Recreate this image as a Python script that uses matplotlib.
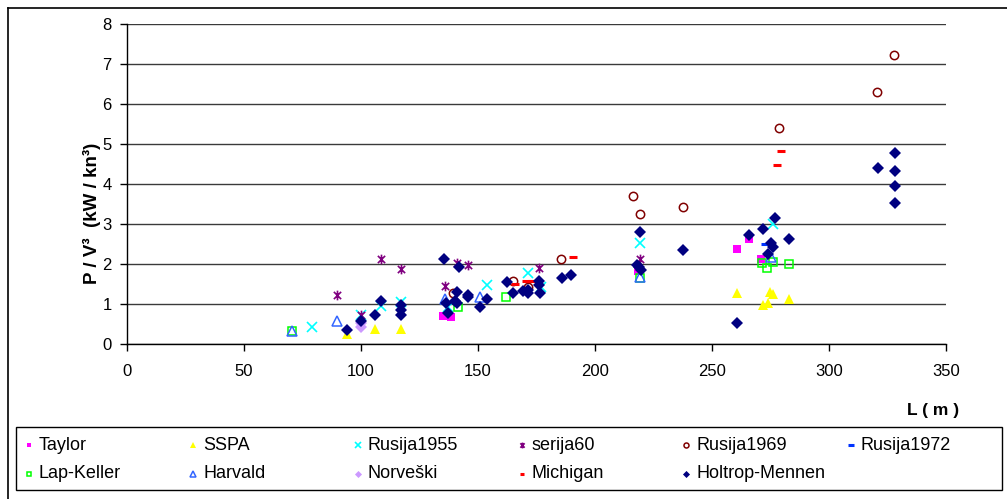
import matplotlib
matplotlib.use("Agg")
import matplotlib.pyplot as plt
from matplotlib.path import Path
from matplotlib.lines import Line2D
from matplotlib.patches import Rectangle

plt.rcParams['font.family'] = ['Liberation Sans', 'DejaVu Sans']

# ---- data (L in m, P/V^3 in kW/kn^3) ----
taylor_L = [135.2, 138.3, 218.5, 260.6, 265.9, 271.0]
taylor_y = [0.71, 0.68, 1.83, 2.37, 2.63, 2.13]

sspa_L = [93.9, 105.9, 117.1, 260.8, 271.7, 273.8, 274.8, 275.9, 283.0]
sspa_y = [0.26, 0.37, 0.37, 1.27, 0.98, 1.02, 1.31, 1.26, 1.12]

rus1955_L = [78.9, 100.0, 108.5, 117.1, 137.3, 153.7, 171.5, 176.9, 219.2, 275.9]
rus1955_y = [0.43, 0.72, 0.96, 1.06, 0.94, 1.49, 1.77, 1.44, 2.52, 3.01]

serija60_L = [89.7, 100.0, 108.5, 117.1, 136.0, 141.0, 145.9, 176.1, 219.2]
serija60_y = [1.23, 0.74, 2.12, 1.87, 1.46, 2.02, 1.98, 1.90, 2.12]

rus1969_L = [139.5, 164.8, 171.2, 185.5, 216.4, 219.2, 237.5, 278.6, 320.5, 327.8]
rus1969_y = [1.27, 1.57, 1.44, 2.13, 3.71, 3.26, 3.42, 5.40, 6.31, 7.23]

rus1972_L = [273.1]
rus1972_y = [2.50]

lapkeller_L = [70.6, 141.6, 162.0, 219.2, 271.2, 273.6, 275.9, 282.9]
lapkeller_y = [0.34, 0.92, 1.18, 1.65, 2.04, 1.90, 2.06, 2.00]

harvald_L = [70.6, 89.7, 135.9, 150.9, 219.2, 275.0]
harvald_y = [0.33, 0.59, 1.12, 1.17, 1.68, 2.17]

norveski_L = [100.0, 100.0]
norveski_y = [0.42, 0.52]

michigan_L = [165.8, 170.5, 173.0, 190.7, 277.6, 279.5]
michigan_y = [1.50, 1.57, 1.57, 2.19, 4.49, 4.84]

holtrop_L = [93.9, 99.9, 105.9, 108.5, 117.1, 117.1, 117.1, 135.6, 136.2, 137.3,
             140.2, 141.2, 141.2, 141.7, 145.9, 145.9, 150.9, 153.7, 162.3, 165.1,
             169.4, 171.5, 171.5, 176.2, 176.2, 176.5, 185.8, 189.7, 217.8, 218.9,
             219.5, 219.2, 237.7, 260.8, 265.9, 271.7, 274.0, 275.1, 276.2, 276.9,
             283.0, 320.8, 328.3, 328.3, 328.3, 328.3]
holtrop_y = [0.35, 0.59, 0.74, 1.07, 0.97, 0.85, 0.72, 2.12, 1.02, 0.77,
             1.08, 1.04, 1.30, 1.94, 1.19, 1.24, 0.92, 1.12, 1.55, 1.27,
             1.33, 1.29, 1.36, 1.59, 1.47, 1.27, 1.65, 1.73, 1.98, 1.92,
             1.86, 2.80, 2.36, 0.54, 2.72, 2.87, 2.26, 2.52, 2.44, 3.15,
             2.63, 4.41, 4.78, 4.34, 3.95, 3.53]

x_ticks = [0, 50, 100, 150, 200, 250, 300, 350]
y_ticks = [0, 1, 2, 3, 4, 5, 6, 7, 8]

# asterisk marker: x plus vertical bar
star_path = Path([(0, -1), (0, 1), (-0.75, -0.75), (0.75, 0.75), (-0.75, 0.75), (0.75, -0.75)],
                 [Path.MOVETO, Path.LINETO, Path.MOVETO, Path.LINETO, Path.MOVETO, Path.LINETO])

W, H = 1007, 499
fig = plt.figure(figsize=(W / 100, H / 100), dpi=100)
ax = fig.add_axes([127 / W, 1 - 344.3 / H, (946 - 127) / W, (344.3 - 24) / H])

series = [
    ("Taylor", taylor_L, taylor_y, dict(marker='s', ms=5.5, mfc='#FF00FF', mec='#FF00FF', mew=0)),
    ("SSPA", sspa_L, sspa_y, dict(marker='^', ms=7, mfc='#FFFF00', mec='#FFFF00', mew=0)),
    ("Rusija1955", rus1955_L, rus1955_y, dict(marker='x', ms=6.5, mfc='none', mec='#00FFFF', mew=1.2)),
    ("serija60", serija60_L, serija60_y, dict(marker=star_path, ms=7, mfc='none', mec='#800080', mew=1.2)),
    ("Rusija1969", rus1969_L, rus1969_y, dict(marker='o', ms=6, mfc='none', mec='#800000', mew=1.1)),
    ("Rusija1972", rus1972_L, rus1972_y, dict(marker='_', ms=7, mfc='none', mec='#0033FF', mew=2.2)),
    ("Lap-Keller", lapkeller_L, lapkeller_y, dict(marker='s', ms=6, mfc='none', mec='#00FF00', mew=1.1)),
    ("Harvald", harvald_L, harvald_y, dict(marker='^', ms=7, mfc='none', mec='#3366FF', mew=1.1)),
    ("Norveški", norveski_L, norveski_y, dict(marker='D', ms=6, mfc='#CC99FF', mec='#CC99FF', mew=0)),
    ("Michigan", michigan_L, michigan_y, dict(marker='_', ms=6, mfc='none', mec='#FF0000', mew=2.2)),
    ("Holtrop-Mennen", holtrop_L, holtrop_y, dict(marker='D', ms=6, mfc='#000080', mec='#000080', mew=0)),
]

for name, xs, ys, st in series:
    ax.plot(xs, ys, linestyle='none', label=name, clip_on=False, **st)

ax.set_xlim(0, 350)
ax.set_ylim(0, 8)
ax.set_xticks(x_ticks)
ax.set_yticks(y_ticks)
ax.set_xticklabels([str(v) for v in x_ticks])
ax.set_yticklabels([str(v) for v in y_ticks])
ax.tick_params(axis='both', direction='out', length=5, width=1, labelsize=12, color='black')
ax.tick_params(axis='x', pad=9)
ax.tick_params(axis='y', pad=6)
ax.yaxis.grid(True, color='#3a3a3a', lw=1.0)
ax.set_axisbelow(True)
for s in ['top', 'right']:
    ax.spines[s].set_visible(False)
for s in ['left', 'bottom']:
    ax.spines[s].set_color('black')
    ax.spines[s].set_linewidth(1.0)

fig.text(92 / W, 1 - 213 / H, "P / V³  (kW / kn³)", rotation=90, ha='center', va='center',
         fontsize=13.5, fontweight='bold')
fig.text(933 / W, 1 - 410 / H, "L ( m )", ha='center', va='center', fontsize=12.5, fontweight='bold')

# ---- legend: 6 evenly spaced columns, row-major order as in reference ----
fig.add_artist(Rectangle((16 / W, 1 - 490 / H), (1002 - 16) / W, (490 - 427) / H,
                         transform=fig.transFigure, fill=False, edgecolor='black', lw=1.0))
col_w = 164.3
for i, (name, xs, ys, st) in enumerate(series):
    r, c = divmod(i, 6)
    mx = 29 + col_w * c
    my = 445 if r == 0 else 474
    lst = dict(st)
    lst['ms'] = st['ms'] * 0.6
    fig.add_artist(Line2D([mx / W], [1 - my / H], transform=fig.transFigure, linestyle='none', **lst))
    fig.text((mx + 10) / W, 1 - my / H, name, ha='left', va='center', fontsize=13)

# outer chart frame
fig.add_artist(Line2D([8 / W, 8 / W], [0, 1 - 8 / H], transform=fig.transFigure, color='black', lw=1.2))
fig.add_artist(Line2D([8 / W, 1], [1 - 8 / H, 1 - 8 / H], transform=fig.transFigure, color='black', lw=1.2))

fig.savefig("out.png", dpi=100)
